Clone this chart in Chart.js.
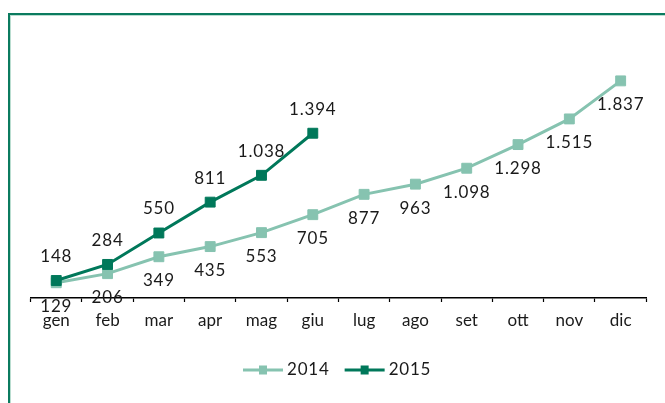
<!DOCTYPE html>
<html><head><meta charset="utf-8">
<script src="https://cdn.jsdelivr.net/npm/chart.js@4"></script>
<style>
html,body{margin:0;padding:0;background:#fff;}
#wrap{position:relative;width:665px;height:403px;overflow:hidden;}
#frame{position:absolute;left:8px;top:13px;width:720px;height:450px;border:2px solid #0b7b5f;box-shadow:inset 1px 1px 0 #b9ddd0;}
canvas{position:absolute;left:0;top:0;}
</style></head><body>
<div id="wrap"><div id="frame"></div><canvas id="c" width="665" height="403"></canvas></div>
<script>
const categories = ['gen','feb','mar','apr','mag','giu','lug','ago','set','ott','nov','dic'];
const values2014 = [129,206,349,435,553,705,877,963,1098,1298,1515,1837];
const values2015 = [148,284,550,811,1038,1394,null,null,null,null,null,null];
const seriesNames = ['2014','2015'];
const seriesColors = ['#86c3b0','#00785a'];

function fmt(v){ return String(v).replace(/\B(?=(\d{3})+(?!\d))/g,'.'); }

const FONT = '17px Lato';
const TEXT = '#1a1a1a';

const labelPlugin = {
  id:'labels',
  afterDatasetsDraw(chart){
    const ctx = chart.ctx;
    ctx.save();
    ctx.font = FONT;
    ctx.fillStyle = TEXT;
    ctx.textAlign = 'center';
    ctx.textBaseline = 'middle';
    try{ ctx.letterSpacing = '0.8px'; }catch(e){}
    chart.data.datasets.forEach((ds,i)=>{
      const meta = chart.getDatasetMeta(i);
      meta.data.forEach((pt,j)=>{
        const v = ds.data[j];
        if(v==null) return;
        const dy = i===0 ? 24 : -24;
        ctx.fillText(fmt(v), pt.x, pt.y+dy);
      });
    });
    // legend
    const ly = 370;
    let x = 243;
    chart.data.datasets.forEach((ds,i)=>{
      ctx.strokeStyle = ds.borderColor;
      ctx.lineWidth = 3;
      ctx.beginPath(); ctx.moveTo(x, ly); ctx.lineTo(x+40, ly); ctx.stroke();
      ctx.fillStyle = ds.borderColor;
      ctx.fillRect(x+16, ly-4.5, 8, 9);
      ctx.fillStyle = TEXT;
      ctx.textAlign = 'left';
      ctx.font = '17px Lato';
      ctx.fillText(ds.label, x+44, ly);
      x += 44 + ctx.measureText(ds.label).width + 15;
    });
    ctx.restore();
  }
};

new Chart(document.getElementById('c'), {
  type:'line',
  data:{
    labels: categories,
    datasets:[
      {label:seriesNames[0], data:values2014, borderColor:seriesColors[0], backgroundColor:seriesColors[0],
       borderWidth:3, pointStyle:'rect', pointRadius:7, pointBorderWidth:1, order:1, tension:0},
      {label:seriesNames[1], data:values2015, borderColor:seriesColors[1], backgroundColor:seriesColors[1],
       borderWidth:3, pointStyle:'rect', pointRadius:7, pointBorderWidth:1, order:0, tension:0}
    ]
  },
  options:{
    responsive:false, animation:false,
    layout:{padding:{left:30.6,right:18.7,top:61.6,bottom:0}},
    plugins:{legend:{display:false}, tooltip:{enabled:false}},
    scales:{
      y:{display:false, min:0, max:2000},
      x:{
        offset:true,
        grid:{display:true, offset:true, drawOnChartArea:false, tickLength:4, tickColor:'#000', tickWidth:1.2},
        border:{display:true, color:'#000', width:1.5},
        ticks:{font:{family:'Lato', size:17}, color:TEXT, padding:8, maxRotation:0, autoSkip:false},
        afterFit(s){ s.height = 105; }
      }
    }
  },
  plugins:[labelPlugin]
});
</script>
</body></html>
